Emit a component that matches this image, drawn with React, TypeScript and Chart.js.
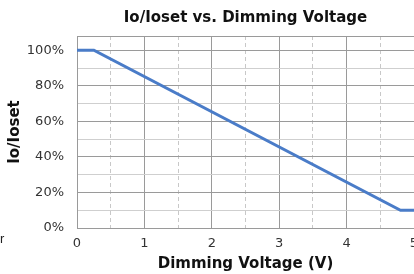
import React, { useEffect, useRef } from "react";
import { Chart, registerables } from "chart.js";

Chart.register(...registerables);

const titleText = "Io/Ioset vs. Dimming Voltage";
const xTitle = "Dimming Voltage (V)";
const yTitle = "Io/Ioset";
const voltage = [0, 0.25, 4.8, 5];
const ratio = [100, 100, 10, 10];
const yTickValues = [0, 10, 20, 30, 40, 50, 60, 70, 80, 90, 100, 108];
const yLabelValues = [0, 20, 40, 60, 80, 100];
const xLabelValues = [0, 1, 2, 3, 4, 5];

export default function App() {
  const ref = useRef<HTMLCanvasElement | null>(null);
  useEffect(() => {
    if (!ref.current) return;
    const chart = new Chart(ref.current, {
      type: "line",
      data: {
        datasets: [
          {
            data: voltage.map((v, i) => ({ x: v, y: ratio[i] })),
            borderColor: "#4a7cc8",
            borderWidth: 3,
            pointRadius: 0,
            tension: 0,
            fill: false,
          },
        ],
      },
      options: {
        animation: false,
        responsive: false,
        layout: { padding: { left: 0, right: 16, top: 0, bottom: 0 } },
        plugins: {
          legend: { display: false },
          tooltip: { enabled: false },
          title: {
            display: true,
            text: titleText,
            fullSize: false,
            color: "#111",
            font: { family: "DejaVu Sans", size: 15, weight: "bold" },
            padding: { top: 9, bottom: 9 },
          },
        },
        scales: {
          x: {
            type: "linear",
            min: 0,
            max: 5,
            afterFit: (s: any) => {
              s.height = 46;
            },
            ticks: {
              stepSize: 0.5,
              padding: 8,
              color: "#333",
              font: { family: "DejaVu Sans", size: 13 },
              maxRotation: 0,
              autoSkip: false,
              callback: (v: any) => (xLabelValues.includes(Number(v)) ? String(v) : ""),
            },
            grid: {
              drawTicks: false,
              color: (c: any) =>
                c.tick && Number.isInteger(c.tick.value) ? "#9a9a9a" : "#c8c8c8",
              lineWidth: 1,
            },
            border: {
              display: true,
              color: "#9a9a9a",
              dash: (c: any) =>
                c.tick && !Number.isInteger(c.tick.value) ? [4, 3] : [],
            } as any,
            title: {
              display: true,
              text: xTitle,
              color: "#111",
              font: { family: "DejaVu Sans", size: 15, weight: "bold" },
              padding: { top: 0, bottom: 1 },
            },
          },
          y: {
            type: "linear",
            min: 0,
            max: 108,
            afterBuildTicks: (s: any) => {
              s.ticks = yTickValues.map((v) => ({ value: v }));
            },
            afterFit: (s: any) => {
              s.width = 77;
            },
            ticks: {
              padding: 13,
              color: "#333",
              font: { family: "DejaVu Sans", size: 13 },
              autoSkip: false,
              callback: (v: any) =>
                yLabelValues.includes(Number(v)) ? v + "%" : "",
            },
            grid: {
              drawTicks: false,
              color: (c: any) => {
                const v = c.tick ? c.tick.value : 0;
                return v % 20 === 0 || v > 100 ? "#9a9a9a" : "#cfcfcf";
              },
              lineWidth: 1,
            },
            border: { display: true, color: "#9a9a9a" },
            title: {
              display: true,
              text: yTitle,
              color: "#111",
              font: { family: "DejaVu Sans", size: 15, weight: "bold" },
              padding: { top: 6, bottom: 0 },
            },
          },
        },
      },
    });
    return () => chart.destroy();
  }, []);

  return (
    <div
      style={{
        position: "fixed",
        left: 0,
        top: 0,
        width: 414,
        height: 274,
        overflow: "hidden",
        background: "#fff",
      }}
    >
      <canvas ref={ref} width={430} height={274} style={{ display: "block" }} />
      <span
        style={{
          position: "absolute",
          left: 0,
          top: 231,
          fontFamily: "Liberation Sans",
          fontSize: 13,
          color: "#222",
        }}
      >
        r
      </span>
    </div>
  );
}
